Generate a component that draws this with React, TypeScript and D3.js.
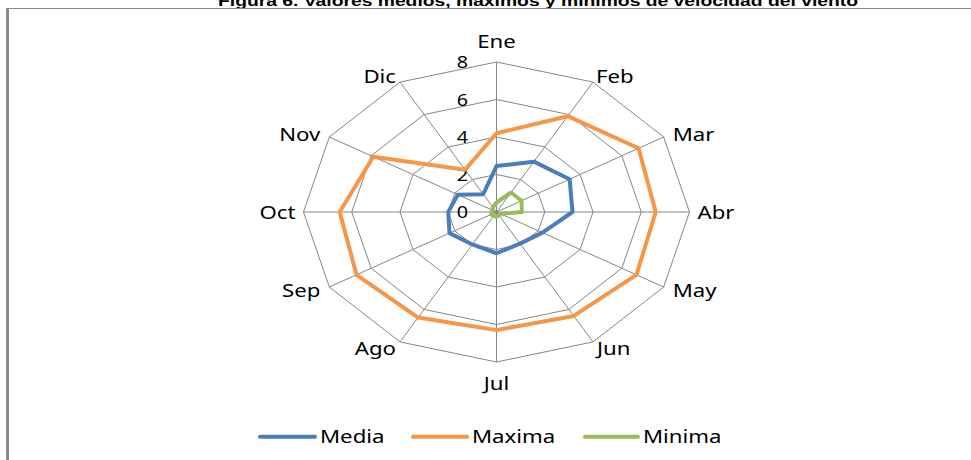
import React from "react";
import * as d3 from "d3";

const months = ["Ene", "Feb", "Mar", "Abr", "May", "Jun", "Jul", "Ago", "Sep", "Oct", "Nov", "Dic"];
const media = [2.45, 3.1, 3.5, 3.15, 2.2, 1.95, 2.2, 2.0, 2.25, 2.0, 1.85, 1.1];
const maxima = [4.2, 5.9, 6.8, 6.6, 6.7, 6.4, 6.3, 6.5, 6.7, 6.5, 5.9, 2.6];
const minima = [0.5, 1.2, 1.2, 1.05, 0.2, 0.2, 0.25, 0.25, 0.25, 0.2, 0.2, 0.3];
const ringTicks = [0, 2, 4, 6, 8];
const seriesNames = ["Media", "Maxima", "Minima"];
const seriesColors = ["#4A7EBB", "#F79646", "#9BBB59"];
const title = "Figura 6. Valores medios, máximos y mínimos de velocidad del viento";

const W = 971;
const H = 460;
const cx = 496.5;
const cy = 212;
const SX = 1.2;
const FONT = "'Noto Sans', sans-serif";

const rX = d3.scaleLinear().domain([0, 8]).range([0, 193]);
const rY = d3.scaleLinear().domain([0, 8]).range([0, 150]);
const angle = d3
  .scaleLinear()
  .domain([0, months.length])
  .range([0, 2 * Math.PI]);

const pt = (i: number, v: number): [number, number] => [
  cx + rX(v) * Math.sin(angle(i)),
  cy - rY(v) * Math.cos(angle(i)),
];

const closed = d3
  .line<[number, number]>()
  .x((d) => d[0])
  .y((d) => d[1])
  .curve(d3.curveLinearClosed);

function SText({
  x,
  y,
  anchor,
  size,
  children,
}: {
  x: number;
  y: number;
  anchor: string;
  size: number;
  children: React.ReactNode;
}) {
  return (
    <text
      transform={`translate(${x},${y}) scale(${SX},1)`}
      textAnchor={anchor}
      fontFamily={FONT}
      fontSize={size}
      fill="#000"
    >
      {children}
    </text>
  );
}

export default function App() {
  const series = [media, maxima, minima];
  const rings = ringTicks.filter((t) => t > 0);

  const labelFor = (i: number) => {
    const [vx, vy] = pt(i, 8);
    const offs: [number, number, string][] = [
      [0, -14, "middle"],
      [3, 1, "start"],
      [9, 4, "start"],
      [8, 7, "start"],
      [9, 10, "start"],
      [4, 13, "start"],
      [0, 28, "middle"],
      [-4, 13, "end"],
      [-9, 10, "end"],
      [-8, 7, "end"],
      [-9, 4, "end"],
      [-4, 1, "end"],
    ];
    const [dx, dy, a] = offs[i];
    return { x: vx + dx, y: vy + dy, a };
  };

  const legendItems = [
    { x1: 260, x2: 315, tx: 320 },
    { x1: 413, x2: 467, tx: 472 },
    { x1: 585, x2: 638, tx: 643 },
  ];

  return (
    <svg
      width={W}
      height={H}
      style={{ position: "absolute", left: 0, top: 0, background: "#fff" }}
    >
      <rect x={0} y={0} width={W} height={H} fill="#fff" />
      <text
        x={218}
        y={6}
        textLength={640}
        lengthAdjust="spacingAndGlyphs"
        fontFamily="'Liberation Sans', Arial, sans-serif"
        fontWeight="bold"
        fontSize={14}
        fill="#000"
      >
        {title}
      </text>
      <line x1={6} x2={W} y1={8.5} y2={8.5} stroke="#8a8a8a" strokeWidth={1} />
      <line x1={7.5} x2={7.5} y1={8} y2={H} stroke="#8a8a8a" strokeWidth={3} />

      <g fill="none" stroke="#868686" strokeWidth={1}>
        {rings.map((r) => (
          <path key={r} d={closed(months.map((_, i) => pt(i, r))) || ""} />
        ))}
        {months.map((m, i) => {
          const [x, y] = pt(i, 8);
          return <line key={m} x1={cx} y1={cy} x2={x} y2={y} />;
        })}
      </g>

      {ringTicks.map((t) => (
        <SText key={t} x={468} y={pt(0, t)[1] + 6} anchor="end" size={16.5}>
          {t}
        </SText>
      ))}

      {months.map((m, i) => {
        const l = labelFor(i);
        return (
          <SText key={m} x={l.x} y={l.y} anchor={l.a} size={18.5}>
            {m}
          </SText>
        );
      })}

      {series.map((s, k) => (
        <path
          key={seriesNames[k]}
          d={closed(s.map((v, i) => pt(i, v))) || ""}
          fill="none"
          stroke={seriesColors[k]}
          strokeWidth={4}
          strokeLinejoin="round"
        />
      ))}

      {legendItems.map((it, k) => (
        <g key={seriesNames[k]}>
          <line
            x1={it.x1}
            x2={it.x2}
            y1={436.7}
            y2={436.7}
            stroke={seriesColors[k]}
            strokeWidth={4}
            strokeLinecap="round"
          />
          <SText x={it.tx} y={443} anchor="start" size={18.5}>
            {seriesNames[k]}
          </SText>
        </g>
      ))}
    </svg>
  );
}
